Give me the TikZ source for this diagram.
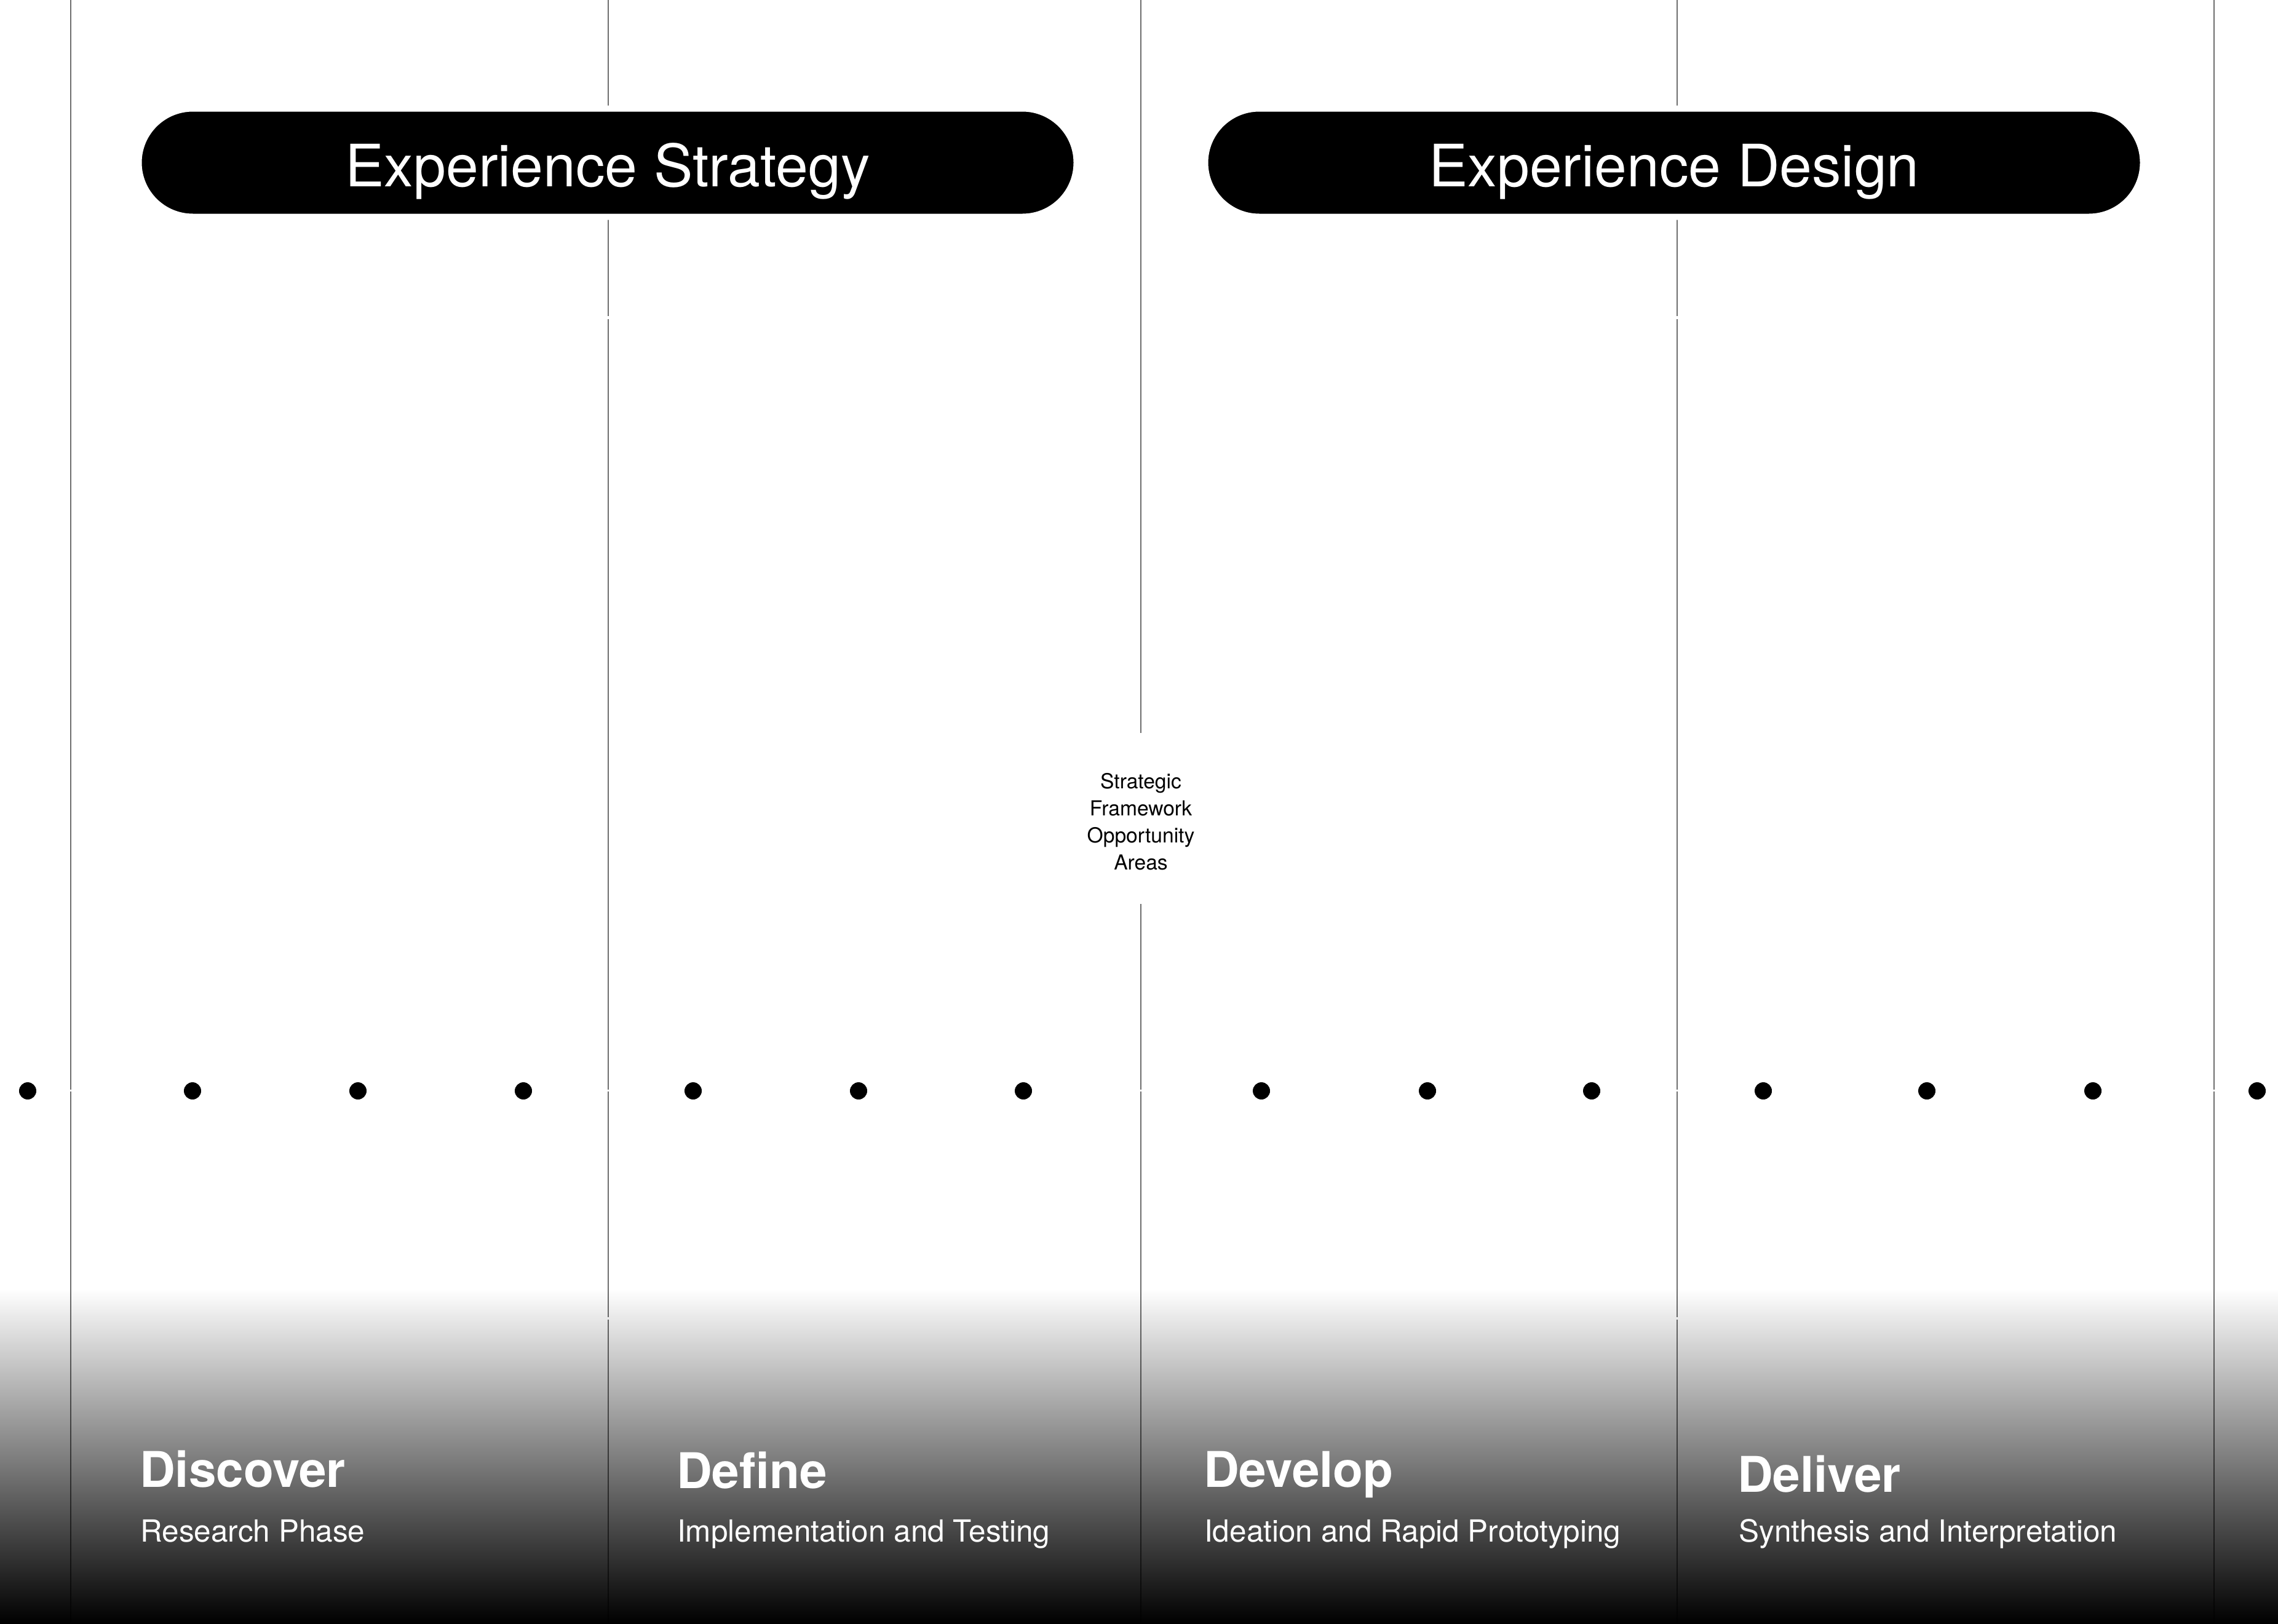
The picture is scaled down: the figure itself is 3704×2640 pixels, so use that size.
\documentclass[tikz,border=0pt]{standalone}
\usepackage{fontspec}
\setmainfont{TeX Gyre Heros}
\usetikzlibrary{shapes.misc}
\begin{document}
\begin{tikzpicture}[x=1pt,y=-1pt,
  rule/.style={line width=2pt, draw=black, draw opacity=0.57},
  pill/.style={rounded rectangle, fill=black, draw=white, line width=10pt,
    minimum width=1525pt, minimum height=176pt, inner sep=0pt, text=white,
    font=\fontsize{95}{100}\selectfont, text height=78pt, text depth=0pt},
  dot/.style={circle, fill=black, minimum size=28pt, inner sep=0pt},
  phase/.style={anchor=base west, text=white, inner sep=0pt,
    font=\bfseries\fontsize{80}{90}\selectfont},
  subphase/.style={anchor=base west, text=white, inner sep=0pt,
    font=\fontsize{49.5}{56}\selectfont},
  note/.style={align=center, inner sep=0pt, font=\fontsize{33.6}{44}\selectfont}
]
\useasboundingbox (0,0) rectangle (3704,2640);
\fill[white] (0,0) rectangle (3704,2640);

% dark fade along the bottom edge
\shade[top color=white, bottom color=black] (0,2095) rectangle (3704,2640);

% column rules
\foreach \cx in {115,3600}{
  \draw[rule] (\cx,0) -- (\cx,1772);
  \draw[rule] (\cx,1775) -- (\cx,2640);
}
\foreach \cx in {989,2727}{
  \draw[rule] (\cx,0) -- (\cx,514);
  \draw[rule] (\cx,519) -- (\cx,1772);
  \draw[rule] (\cx,1775) -- (\cx,2142);
  \draw[rule] (\cx,2146) -- (\cx,2640);
}
\draw[rule] (1855,0) -- (1855,1192);
\draw[rule] (1855,1470) -- (1855,1772);
\draw[rule] (1855,1775) -- (1855,2640);

% stage headers
\node[pill] (strategy) at (988,264.5) {Experience Strategy};
\node[pill] (design) at (2722,264.5) {Experience Design};

% hand-off note on the middle rule
\node[note] (framework) at (1855,1336) {Strategic\\Framework\\Opportunity\\Areas};

% timeline dots
\foreach \dx [count=\i] in {45,313,582,851,1127,1396,1664,2051,2321,2588,2867,3133,3403,3670}{
  \node[dot] (dot\i) at (\dx,1774) {};
}

% phase labels
\node[phase] (discover) at (227,2418) {Discover};
\node[subphase] (discoversub) at (228,2507) {Research Phase};
\node[phase] (define) at (1100,2420) {Define};
\node[subphase] (definesub) at (1101,2507) {Implementation and Testing};
\node[phase] (develop) at (1957,2418) {Develop};
\node[subphase] (developsub) at (1958,2507) {Ideation and Rapid Prototyping};
\node[phase] (deliver) at (2825,2426) {Deliver};
\node[subphase] (deliversub) at (2827,2507) {Synthesis and Interpretation};
\end{tikzpicture}
\end{document}
